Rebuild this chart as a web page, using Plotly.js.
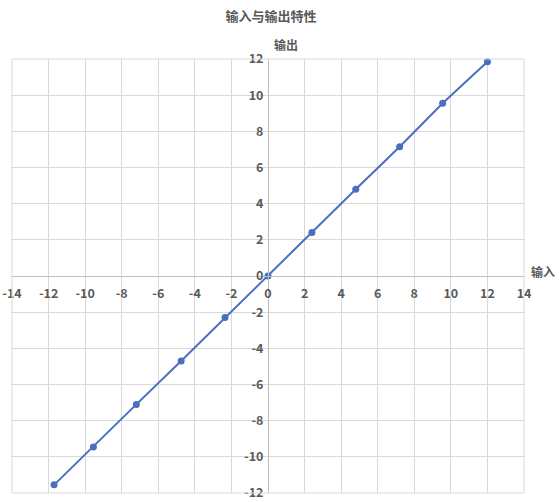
<!DOCTYPE html>
<html>
<head>
<meta charset="utf-8">
<script src="https://cdn.plot.ly/plotly-3.0.1.min.js"></script>
<style>html,body{margin:0;padding:0;background:#fff;}#chart{width:559px;height:502px;}</style>
</head>
<body>
<div id="chart"></div>
<script>
var inputValues = [-11.7, -9.55, -7.2, -4.75, -2.35, 0, 2.4, 4.8, 7.2, 9.55, 12];
var outputValues = [-11.55, -9.45, -7.1, -4.7, -2.3, 0, 2.4, 4.8, 7.15, 9.55, 11.85];
var xTickVals = [-14, -12, -10, -8, -6, -4, -2, 0, 2, 4, 6, 8, 10, 12, 14];
var xTickText = ['-14', '-12', '-10', '-8', '-6', '-4', '-2', '0', '2', '4', '6', '8', '10', '12', '14'];
var yTickVals = [-12, -10, -8, -6, -4, -2, 0, 2, 4, 6, 8, 10, 12];
var yTickText = ['-12', '-10', '-8', '-6', '-4', '-2', '0', '2', '4', '6', '8', '10', '12'];
var chartTitle = '输入与输出特性';
var xTitle = '输入';
var yTitle = '输出';

var fontFam = '"Noto Sans CJK SC", "Open Sans", sans-serif';
var txtColor = '#595959';

var trace = {
  x: inputValues,
  y: outputValues,
  type: 'scatter',
  mode: 'lines+markers',
  line: {color: '#4a6fbe', width: 2},
  marker: {color: '#4a6fbe', size: 7},
  hoverinfo: 'none',
  cliponaxis: false
};

var tf = {family: fontFam, size: 12.5, color: txtColor, weight: 'bold'};

var layout = {
  width: 559,
  height: 502,
  margin: {l: 12, r: 35, t: 59, b: 9},
  paper_bgcolor: '#ffffff',
  plot_bgcolor: '#ffffff',
  showlegend: false,
  font: {family: fontFam, color: txtColor, size: 12},
  title: {text: chartTitle, font: {family: fontFam, size: 13, color: txtColor, weight: 'bold'}, x: 0.485, xanchor: 'center', y: 0.968, yanchor: 'middle'},
  xaxis: {
    range: [-14, 14], tickmode: 'array', tickvals: xTickVals, ticktext: xTickText,
    showgrid: true, gridcolor: '#d9d9d9', gridwidth: 1,
    zeroline: false, showline: true, linecolor: '#bfbfbf', linewidth: 1,
    anchor: 'free', position: 0.5, ticks: '', ticklen: 0, ticklabelstandoff: 6,
    ticklabeloverflow: 'allow',
    tickfont: tf, mirror: false, fixedrange: true
  },
  yaxis: {
    range: [-12, 12], tickmode: 'array', tickvals: yTickVals, ticktext: yTickText,
    showgrid: true, gridcolor: '#d9d9d9', gridwidth: 1,
    zeroline: false, showline: true, linecolor: '#bfbfbf', linewidth: 1,
    anchor: 'free', position: 0.5, ticks: '', ticklen: 0, ticklabelstandoff: 2,
    ticklabeloverflow: 'allow',
    tickfont: tf, fixedrange: true
  },
  shapes: [
    {type: 'rect', xref: 'paper', yref: 'paper', x0: 0, x1: 1, y0: 0, y1: 1, line: {color: '#d9d9d9', width: 1}}
  ],
  annotations: [
    {text: xTitle, xref: 'paper', yref: 'paper', x: 1.01, y: 0.51, xanchor: 'left', yanchor: 'middle', showarrow: false, font: {family: fontFam, size: 12, color: txtColor, weight: 'bold'}},
    {text: yTitle, xref: 'paper', yref: 'paper', x: 0.535, y: 1.01, xanchor: 'center', yanchor: 'bottom', showarrow: false, font: {family: fontFam, size: 12, color: txtColor, weight: 'bold'}}
  ]
};

Plotly.newPlot('chart', [trace], layout, {displayModeBar: false, staticPlot: true});
</script>
</body>
</html>
